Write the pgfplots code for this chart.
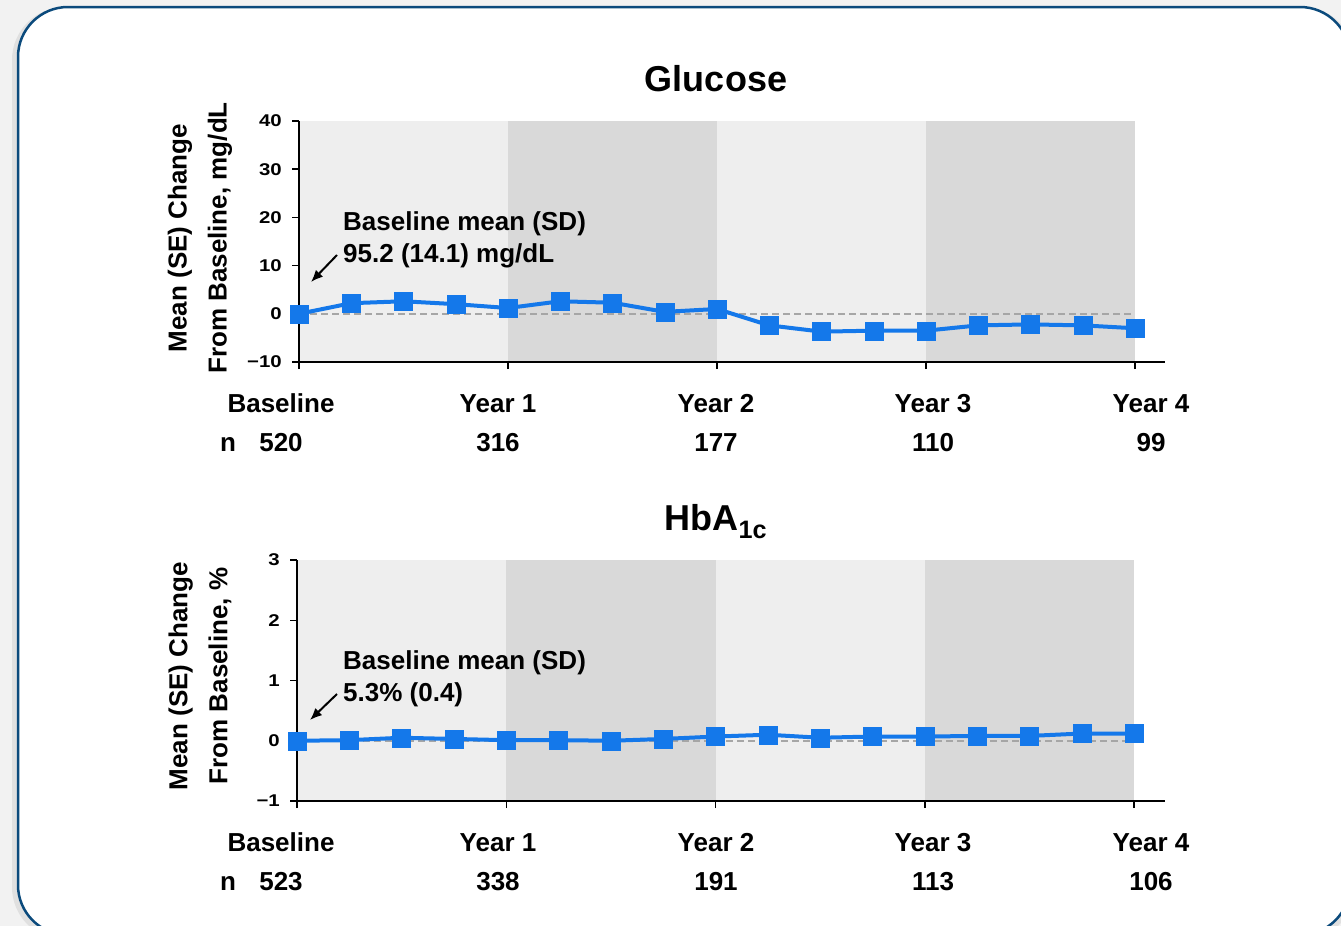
\documentclass[border=0pt]{standalone}
\usepackage{fontspec}
\setmainfont{Liberation Sans}
\newfontfamily\tickfont[FakeStretch=1.2]{Liberation Sans Bold}
\newcommand\tf[1]{\mbox{\tickfont\fontsize{17}{17}\selectfont #1}}
\usepackage{pgfplots}
\usepackage{pgfplotstable}
\pgfplotsset{compat=1.18}
\usetikzlibrary{arrows.meta}

\definecolor{frameblue}{HTML}{0B4A7C}
\definecolor{bandlight}{HTML}{EEEEEE}
\definecolor{banddark}{HTML}{D9D9D9}
\definecolor{lineblue}{HTML}{1478EA}
\definecolor{zerogray}{HTML}{A6A6A6}

% mean change from baseline, visits at 0..16 (quarters)
\pgfplotstableread{
x y
0 0
1 2.2
2 2.6
3 2.0
4 1.2
5 2.6
6 2.3
7 0.4
8 1.0
9 -2.4
10 -3.7
11 -3.5
12 -3.5
13 -2.4
14 -2.2
15 -2.4
16 -3.0
}\glucose

\pgfplotstableread{
x y
0 0
1 0.01
2 0.05
3 0.03
4 0.01
5 0.01
6 0.0
7 0.03
8 0.07
9 0.10
10 0.05
11 0.07
12 0.07
13 0.08
14 0.08
15 0.12
16 0.12
}\hba

\pgfplotsset{
  panel/.style={
    scale only axis, clip=false,
    axis lines=left, axis line style={-, line width=2pt, black},
    tick align=outside, major tick length=7pt,
    tick style={black, line width=1.5pt},
    xtick={0,4,8,12,16}, xticklabels={,,,,},
    yticklabel style={inner sep=0pt, xshift=-10pt},
  },
  mainline/.style={lineblue, line width=4pt, mark=square*, mark size=9pt,
    mark options={solid, line width=0.3pt}},
  zeroline/.style={zerogray, line width=2pt, dash pattern=on 7pt off 4pt},
  band/.style={fill=#1, draw=none, forget plot},
}

\tikzset{
  lab/.style={font=\bfseries\fontsize{26}{30}\selectfont, inner sep=0pt, anchor=base},
}

\begin{document}
\begin{tikzpicture}
\path[use as bounding box] (0pt,0pt) rectangle (1341pt,-926pt);
\clip (0pt,0pt) rectangle (1341pt,-926pt);
\fill[black!5] (0pt,0pt) rectangle (1341pt,-926pt);
\draw[black!12, line width=6pt, rounded corners=50pt] (15pt,-10pt) rectangle (1352pt,-937pt);
\filldraw[fill=white, draw=frameblue, line width=2.5pt, rounded corners=50pt]
  (18pt,-7pt) rectangle (1350pt,-935pt);

% ---------- Glucose ----------
\begin{axis}[panel, at={(299pt,-362pt)}, anchor=south west,
  width=866pt, height=241pt,
  xmin=0, xmax=16.575, ymin=-10, ymax=40,
  ytick={-10,0,10,20,30,40},
  yticklabels={\tf{−10},\tf{0},\tf{10},\tf{20},\tf{30},\tf{40}}]
\addplot[band=bandlight] coordinates {(0.02,-9.8) (4,-9.8) (4,40) (0.02,40)} -- cycle;
\addplot[band=banddark] coordinates {(4,-9.8) (8,-9.8) (8,40) (4,40)} -- cycle;
\addplot[band=bandlight] coordinates {(8,-9.8) (12,-9.8) (12,40) (8,40)} -- cycle;
\addplot[band=banddark] coordinates {(12,-9.8) (16,-9.8) (16,40) (12,40)} -- cycle;
\addplot[zeroline] coordinates {(0,0) (16,0)};
\addplot[mainline] table {\glucose};
\end{axis}

% ---------- HbA1c ----------
\begin{axis}[panel, at={(297pt,-801pt)}, anchor=south west,
  width=868pt, height=241pt,
  xmin=0, xmax=16.59, ymin=-1, ymax=3,
  ytick={-1,0,1,2,3},
  yticklabels={\tf{−1},\tf{0},\tf{1},\tf{2},\tf{3}}]
\addplot[band=bandlight] coordinates {(0.02,-0.983) (4,-0.983) (4,3) (0.02,3)} -- cycle;
\addplot[band=banddark] coordinates {(4,-0.983) (8,-0.983) (8,3) (4,3)} -- cycle;
\addplot[band=bandlight] coordinates {(8,-0.983) (12,-0.983) (12,3) (8,3)} -- cycle;
\addplot[band=banddark] coordinates {(12,-0.983) (16,-0.983) (16,3) (12,3)} -- cycle;
\addplot[zeroline] coordinates {(0,0) (16,0)};
\addplot[mainline] table {\hba};
\end{axis}

% titles
\node[lab, font=\bfseries\fontsize{36}{40}\selectfont] at (716pt,-91pt) {Glucose};
\node[lab, font=\bfseries\fontsize{36}{40}\selectfont] at (716pt,-530pt) {HbA\textsubscript{1c}};

% y labels
\node[rotate=90, align=center, font=\bfseries\fontsize{26}{40}\selectfont]
  at (200pt,-238pt) {Mean (SE) Change\\From Baseline, mg/dL};
\node[rotate=90, align=center, font=\bfseries\fontsize{26}{40}\selectfont]
  at (200pt,-676pt) {Mean (SE) Change\\From Baseline, \%};

% annotations
\node[lab, anchor=base west] at (343pt,-230pt) {Baseline mean (SD)};
\node[lab, anchor=base west] at (343pt,-262pt) {95.2 (14.1) mg/dL};
\draw[line width=2pt, -{Latex[length=12pt,width=10pt]}] (337pt,-255pt) -- (311pt,-282pt);
\node[lab, anchor=base west] at (343pt,-669pt) {Baseline mean (SD)};
\node[lab, anchor=base west] at (343pt,-701pt) {5.3\% (0.4)};
\draw[line width=2pt, -{Latex[length=12pt,width=10pt]}] (337pt,-694pt) -- (310pt,-720pt);

% time labels and n
\foreach \xp/\t/\na/\nb in {281/Baseline/520/523, 498/Year 1/316/338, 716/Year 2/177/191, 933/Year 3/110/113, 1151/Year 4/99/106}{
  \node[lab] at (\xp pt,-412pt) {\t};
  \node[lab] at (\xp pt,-451pt) {\na};
  \node[lab] at (\xp pt,-851pt) {\t};
  \node[lab] at (\xp pt,-890pt) {\nb};
}
\node[lab] at (228pt,-451pt) {n};
\node[lab] at (228pt,-890pt) {n};
\end{tikzpicture}
\end{document}
